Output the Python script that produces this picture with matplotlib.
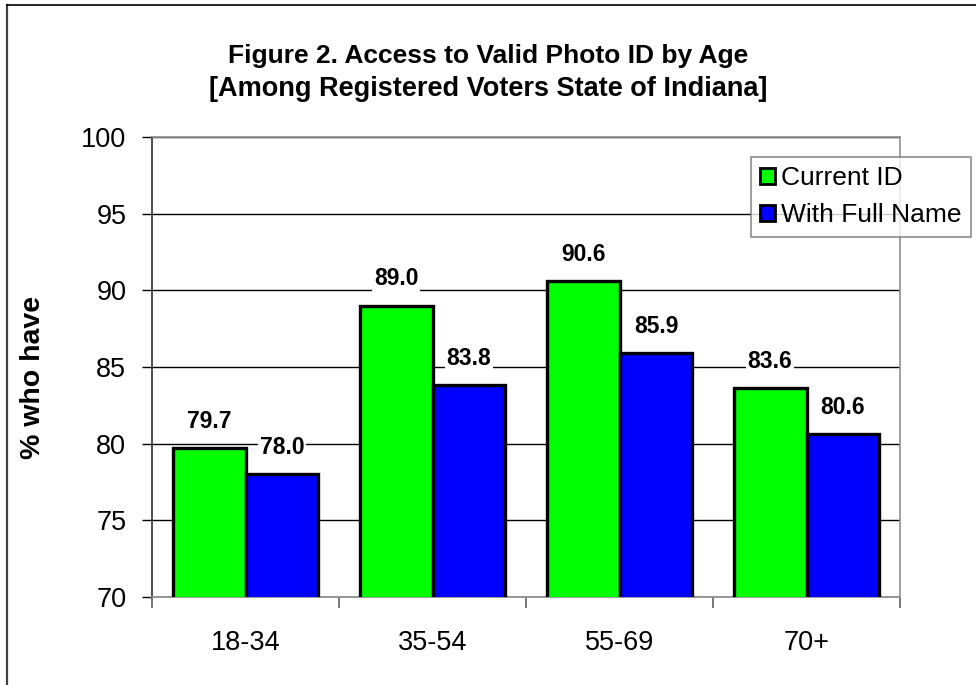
import matplotlib
matplotlib.use("Agg")
import matplotlib.pyplot as plt
import numpy as np
from matplotlib.patches import Patch
from matplotlib.lines import Line2D

plt.rcParams['font.family'] = ['Liberation Sans', 'DejaVu Sans']

categories = ["18-34", "35-54", "55-69", "70+"]
current_id = [79.7, 89.0, 90.6, 83.6]
full_name = [78.0, 83.8, 85.9, 80.6]
series_names = ["Current ID", "With Full Name"]
yticks = [70, 75, 80, 85, 90, 95, 100]

W, H = 976, 685
fig = plt.figure(figsize=(W / 100, H / 100), dpi=100)
ax = fig.add_axes([152 / W, 1 - 597 / H, 748 / W, 460 / H])

x = np.arange(len(categories))
w = 0.39
b1 = ax.bar(x - w / 2, current_id, w, color="#00FF00", edgecolor="black", linewidth=2.4, zorder=3)
b2 = ax.bar(x + w / 2, full_name, w, color="#0000FF", edgecolor="black", linewidth=2.4, zorder=3)

for bars, vals in ((b1, current_id), (b2, full_name)):
    for r, v in zip(bars, vals):
        ax.annotate(f"{v:.1f}", (r.get_x() + r.get_width() / 2, v),
                    xytext=(0, 19.5), textcoords="offset points",
                    ha="center", va="center", fontsize=16.5, fontweight="bold",
                    bbox=dict(facecolor="white", edgecolor="none", pad=1.5), zorder=4)

ax.set_ylim(70, 100)
ax.set_xlim(-0.5, len(categories) - 0.5)
ax.set_yticks(yticks)
ax.set_yticklabels([str(t) for t in yticks], fontsize=19.5)
ax.yaxis.grid(True, color="black", linewidth=1.0, zorder=0)
ax.set_axisbelow(True)

ax.set_xticks(x)
ax.set_xticklabels(categories, fontsize=19.5)
ax.tick_params(axis="x", length=0, pad=24)
ax.set_xticks(np.arange(len(categories) + 1) - 0.5, minor=True)
ax.tick_params(axis="x", which="minor", length=8, color="#606060", width=1.2)
ax.tick_params(axis="y", length=7.5, color="black", width=1.0, pad=11)

for s in ("top", "right"):
    ax.spines[s].set_color("#909090")
    ax.spines[s].set_linewidth(1.2)
ax.spines["left"].set_color("#404040")
ax.spines["left"].set_linewidth(1.3)
ax.spines["bottom"].set_color("#909090")
ax.spines["bottom"].set_linewidth(1.3)

ax.set_ylabel("% who have", fontsize=20.5, fontweight="bold")
ax.yaxis.set_label_coords((46 - 152) / 748, 0.5 - (377 - 367) / 460)

fig.text(0.5, 1 - 56 / H, "Figure 2. Access to Valid Photo ID by Age",
         ha="center", va="center", fontsize=19, fontweight="bold")
fig.text(0.5, 1 - 89 / H, "[Among Registered Voters State of Indiana]",
         ha="center", va="center", fontsize=19.5, fontweight="bold")

handles = [Patch(facecolor="#00FF00", edgecolor="black", linewidth=2),
           Patch(facecolor="#0000FF", edgecolor="black", linewidth=2)]
leg = fig.legend(handles, series_names, loc="upper left",
                 bbox_to_anchor=(751 / W, 1 - 157 / H), borderaxespad=0,
                 fontsize=19, frameon=True, fancybox=False, handlelength=0.55,
                 handleheight=0.55, handletextpad=0.25, labelspacing=0.5,
                 borderpad=0.35)
leg.get_frame().set_edgecolor("#707070")
leg.get_frame().set_linewidth(1.2)

# outer frame around the chart area
fig.add_artist(Line2D([7 / W, 7 / W], [-0.1, 1 - 5 / H], transform=fig.transFigure,
                      color="#404040", linewidth=1.6))
fig.add_artist(Line2D([7 / W, 1.1], [1 - 5 / H, 1 - 5 / H], transform=fig.transFigure,
                      color="black", linewidth=1.2))

fig.savefig("out.png", dpi=100)
